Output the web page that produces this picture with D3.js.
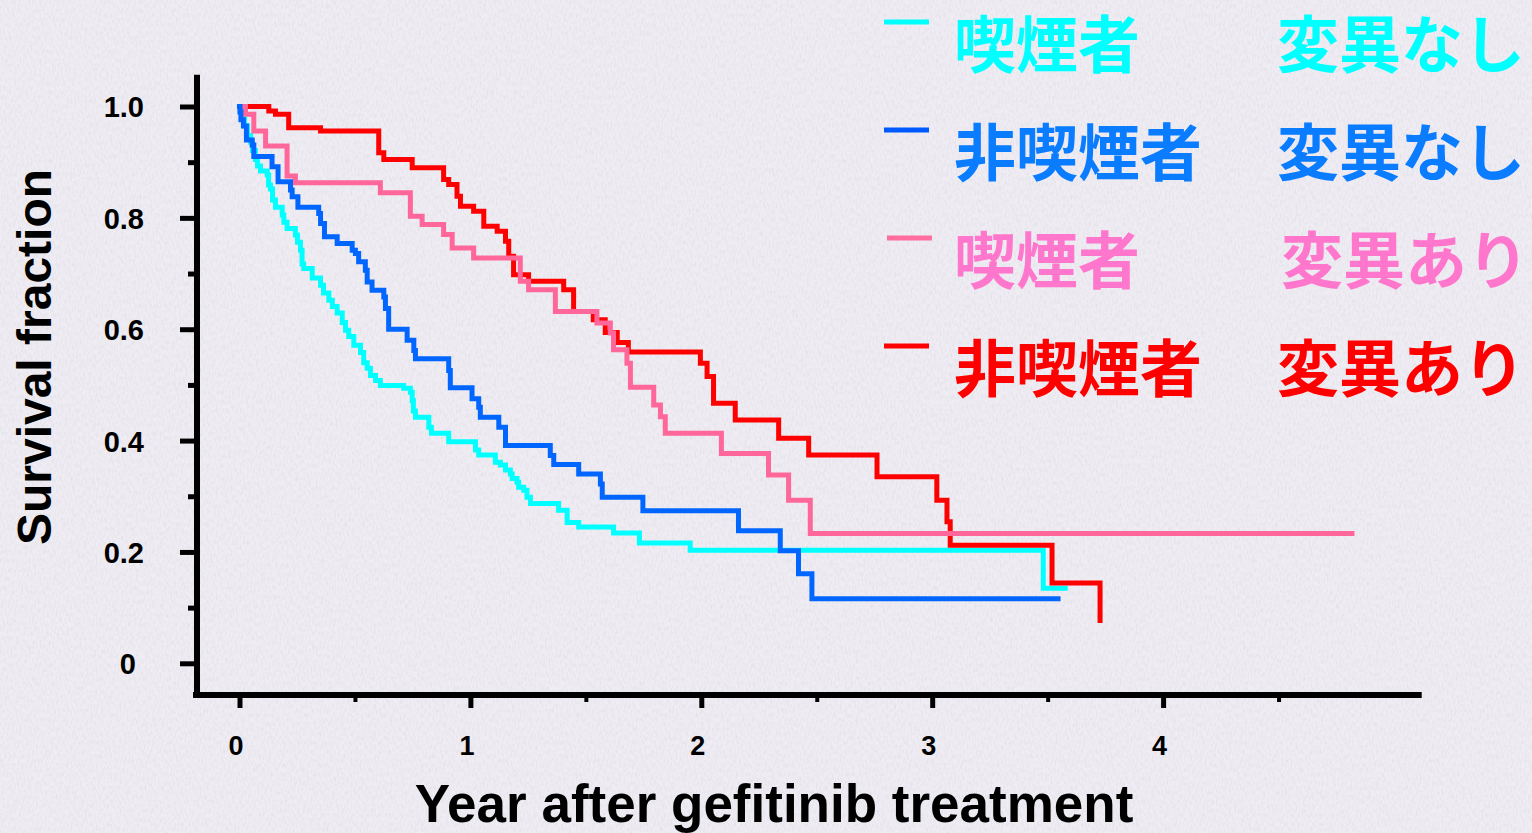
<!DOCTYPE html>
<html>
<head>
<meta charset="utf-8">
<script src="https://cdn.jsdelivr.net/npm/d3@7"></script>
<style>
  html, body { margin: 0; padding: 0; background: #efedf3; }
  svg { display: block; }
</style>
</head>
<body>
<svg id="chart" width="1532" height="833"></svg>
<script>
// Kaplan–Meier step data: [year, survival fraction after the event]
const smokerNoMut = [
  [0,1],[0.004,0.990],[0.009,0.979],[0.022,0.965],[0.035,0.948],[0.048,0.936],[0.056,0.921],
  [0.069,0.905],[0.078,0.893],[0.091,0.884],[0.120,0.877],[0.126,0.859],[0.134,0.852],
  [0.143,0.832],[0.156,0.819],[0.185,0.805],[0.192,0.792],[0.206,0.781],[0.242,0.769],
  [0.251,0.756],[0.264,0.742],[0.271,0.717],[0.278,0.709],[0.315,0.692],[0.351,0.679],
  [0.364,0.665],[0.387,0.652],[0.402,0.641],[0.423,0.629],[0.445,0.612],[0.459,0.598],
  [0.473,0.587],[0.495,0.571],[0.524,0.558],[0.538,0.540],[0.553,0.530],[0.567,0.517],
  [0.589,0.508],[0.610,0.499],[0.711,0.494],[0.740,0.487],[0.748,0.472],[0.753,0.453],
  [0.762,0.442],[0.820,0.424],[0.831,0.413],[0.906,0.398],[1.022,0.383],[1.036,0.374],
  [1.108,0.361],[1.130,0.356],[1.152,0.347],[1.173,0.340],[1.181,0.332],[1.202,0.325],
  [1.209,0.316],[1.231,0.311],[1.245,0.298],[1.260,0.287],[1.382,0.275],[1.419,0.253],
  [1.469,0.245],[1.620,0.234],[1.732,0.216],[1.952,0.203],[3.481,0.135],[3.576,0.135]
];

const nonSmokerNoMut = [
  [0,1],[0.002,0.990],[0.006,0.976],[0.017,0.965],[0.030,0.940],[0.055,0.931],[0.062,0.910],
  [0.141,0.892],[0.167,0.865],[0.221,0.850],[0.228,0.838],[0.253,0.819],[0.343,0.808],
  [0.351,0.790],[0.368,0.766],[0.423,0.754],[0.488,0.742],[0.502,0.736],[0.516,0.721],
  [0.545,0.706],[0.553,0.685],[0.574,0.670],[0.625,0.658],[0.632,0.637],[0.646,0.600],
  [0.726,0.580],[0.755,0.562],[0.762,0.547],[0.906,0.526],[0.913,0.495],[1.007,0.475],
  [1.036,0.460],[1.043,0.442],[1.123,0.424],[1.152,0.391],[1.346,0.373],[1.361,0.357],
  [1.469,0.340],[1.563,0.322],[1.571,0.298],[1.747,0.274],[2.161,0.238],[2.342,0.202],
  [2.421,0.161],[2.479,0.116],[3.545,0.116]
];

const smokerMut = [
  [0,1],[0.026,0.986],[0.062,0.956],[0.113,0.929],[0.206,0.875],[0.242,0.863],[0.610,0.845],
  [0.740,0.803],[0.791,0.788],[0.884,0.770],[0.921,0.746],[1.014,0.728],[1.216,0.686],
  [1.252,0.671],[1.368,0.632],[1.548,0.611],[1.606,0.593],[1.620,0.563],[1.678,0.539],
  [1.693,0.496],[1.794,0.464],[1.823,0.443],[1.844,0.413],[2.087,0.377],[2.291,0.338],
  [2.378,0.293],[2.472,0.233],[4.818,0.233]
];

const nonSmokerMut = [
  [0,1],[0.127,0.992],[0.156,0.986],[0.213,0.962],[0.351,0.956],[0.603,0.917],[0.625,0.905],
  [0.748,0.890],[0.884,0.869],[0.906,0.860],[0.942,0.839],[0.957,0.821],[1.014,0.812],
  [1.058,0.785],[1.116,0.776],[1.152,0.758],[1.166,0.731],[1.187,0.698],[1.252,0.686],
  [1.404,0.671],[1.447,0.632],[1.532,0.617],[1.584,0.594],[1.636,0.576],[1.684,0.559],
  [1.996,0.539],[2.025,0.515],[2.053,0.467],[2.147,0.437],[2.335,0.404],[2.465,0.374],
  [2.761,0.335],[3.020,0.293],[3.064,0.254],[3.078,0.212],[3.519,0.144],[3.727,0.077]
];

const yMajorTicks = [0, 0.2, 0.4, 0.6, 0.8, 1.0];
const yMinorTicks = [0.1, 0.3, 0.5, 0.7, 0.9];
const xMajorTicks = [0, 1, 2, 3, 4];
const xMinorTicks = [0.5, 1.5, 2.5, 3.5, 4.5];

const legendLeft  = ["喫煙者", "非喫煙者", "喫煙者", "非喫煙者"];
const legendRight = ["変異なし", "変異なし", "変異あり", "変異あり"];

const xTitle = "Year after gefitinib treatment";
const yTitle = "Survival fraction";

// series styling, in drawing order (bottom to top)
const curves = [
  { data: smokerNoMut,    color: "#00ffff" },
  { data: nonSmokerMut,   color: "#ff0000" },
  { data: smokerMut,      color: "#ff6699" },
  { data: nonSmokerNoMut, color: "#0066ff" }
];
const legendLine = ["#00ffff", "#0059ff", "#ff6e9e", "#ff0000"];
const legendText = ["#00ffff", "#0a7cff", "#ff77cc", "#ff0000"];

const svg = d3.select("#chart");

// paper-like background
const defs = svg.append("defs");
const f = defs.append("filter").attr("id", "paper")
  .attr("x", 0).attr("y", 0).attr("width", "100%").attr("height", "100%");
f.append("feTurbulence").attr("type", "fractalNoise")
  .attr("baseFrequency", "0.55 0.22").attr("numOctaves", 3).attr("seed", 7);
f.append("feColorMatrix").attr("type", "matrix")
  .attr("values", "0 0 0 0 0.55  0 0 0 0 0.54  0 0 0 0 0.6  0.55 0 0 0 -0.22");
svg.append("rect").attr("width", 1532).attr("height", 833).attr("fill", "#efedf3");
svg.append("rect").attr("width", 1532).attr("height", 833).attr("filter", "url(#paper)");

const x = d3.scaleLinear().domain([0, 5]).range([239.5, 239.5 + 5 * 230.9]);
const y = d3.scaleLinear().domain([0, 1]).range([663.3, 106.5]);

const axisX = 197;     // y-axis line position
const axisY = 695;     // x-axis line position
const ink = "#000";
const font = "Arial, 'Liberation Sans', Helvetica, sans-serif";

// y axis
const gy = svg.append("g").attr("transform", `translate(${axisX},0)`);
gy.call(d3.axisLeft(y).tickValues(yMajorTicks).tickSize(17).tickPadding(0)
  .tickFormat(d => d === 0 ? "0" : d3.format(".1f")(d)));
gy.select(".domain").remove();
gy.selectAll(".tick line").attr("stroke", ink).attr("stroke-width", 5);
gy.selectAll(".tick text")
  .attr("x", d => d === 0 ? -61 : -53).attr("dy", "0.36em")
  .attr("fill", ink).style("font", `bold 29px ${font}`).attr("text-anchor", "end");
const gyMinor = svg.append("g").attr("transform", `translate(${axisX},0)`);
gyMinor.call(d3.axisLeft(y).tickValues(yMinorTicks).tickSize(9).tickFormat(""));
gyMinor.select(".domain").remove();
gyMinor.selectAll(".tick line").attr("stroke", ink).attr("stroke-width", 5);

// x axis
const gx = svg.append("g").attr("transform", `translate(0,${axisY})`);
gx.call(d3.axisBottom(x).tickValues(xMajorTicks).tickSize(13).tickFormat(d3.format("d")));
gx.select(".domain").remove();
gx.selectAll(".tick line").attr("stroke", ink).attr("stroke-width", 5);
gx.selectAll(".tick text")
  .attr("x", -4).attr("y", 60).attr("dy", 0)
  .attr("fill", ink).style("font", `bold 27px ${font}`);
const gxMinor = svg.append("g").attr("transform", `translate(0,${axisY})`);
gxMinor.call(d3.axisBottom(x).tickValues(xMinorTicks).tickSize(7).tickFormat(""));
gxMinor.select(".domain").remove();
gxMinor.selectAll(".tick line").attr("stroke", ink).attr("stroke-width", 4);

// axis lines
svg.append("line").attr("x1", axisX).attr("x2", axisX)
  .attr("y1", y(1.057)).attr("y2", axisY + 2.5)
  .attr("stroke", ink).attr("stroke-width", 6);
svg.append("line").attr("x1", axisX - 4).attr("x2", x(5.12))
  .attr("y1", axisY).attr("y2", axisY)
  .attr("stroke", ink).attr("stroke-width", 6);

// axis titles
svg.append("text").attr("x", 774).attr("y", 822).attr("text-anchor", "middle")
  .attr("fill", ink).style("font", `bold 53px ${font}`).text(xTitle);
svg.append("text").attr("transform", "translate(51,357) rotate(-90)")
  .attr("text-anchor", "middle").attr("fill", ink)
  .style("font", `bold 48px ${font}`).text(yTitle);

// survival curves
const line = d3.line().x(d => x(d[0])).y(d => y(d[1])).curve(d3.curveStepAfter);
svg.append("g").selectAll("path").data(curves).join("path")
  .attr("d", d => line(d.data))
  .attr("fill", "none")
  .attr("stroke", d => d.color)
  .attr("stroke-width", 5)
  .attr("stroke-linejoin", "miter")
  .attr("stroke-linecap", "square");

// legend
const legendBase = [68, 176, 284, 392];
const leg = svg.append("g");
legendLeft.forEach((lab, i) => {
  const gi = leg.append("g");
  gi.append("line")
    .attr("x1", i === 2 ? 887 : 884).attr("x2", i === 2 ? 932 : 929)
    .attr("y1", legendBase[i] - 46).attr("y2", legendBase[i] - 46)
    .attr("stroke", legendLine[i]).attr("stroke-width", 5);
  gi.append("text").attr("x", 954).attr("y", legendBase[i])
    .attr("fill", legendText[i])
    .style("font", "bold 62px 'Noto Sans CJK JP', sans-serif")
    .text(lab);
  gi.append("text").attr("x", i === 2 ? 1281 : 1277).attr("y", legendBase[i])
    .attr("fill", legendText[i])
    .style("font", "bold 62px 'Noto Sans CJK JP', sans-serif")
    .text(legendRight[i]);
});
</script>
</body>
</html>
